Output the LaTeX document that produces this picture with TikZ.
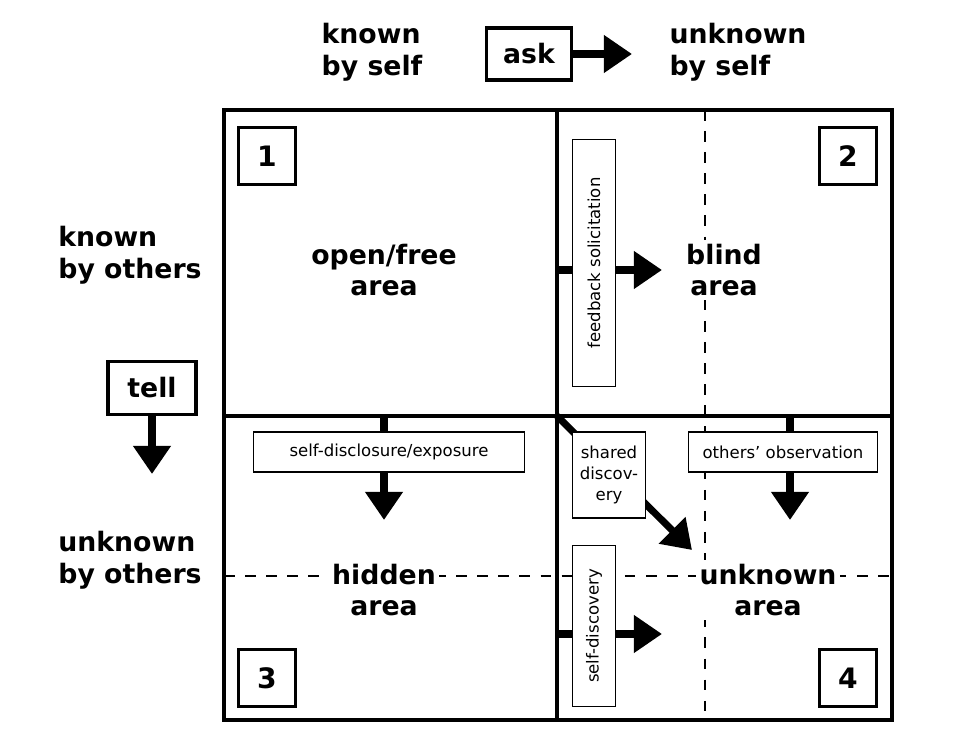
\documentclass[tikz,border=0pt]{standalone}
\usepackage{fontspec}
\setmainfont{DejaVu Sans}
\usetikzlibrary{arrows.meta,positioning}

\tikzset{
  big/.style={font=\bfseries\fontsize{7.6}{9}\selectfont, align=left},
  area/.style={font=\bfseries\fontsize{7.6}{9}\selectfont, align=center, fill=white, inner sep=1pt},
  numbox/.style={draw, line width=1.1pt, minimum size=0.57cm, inner sep=0pt, font=\bfseries\fontsize{8}{9}\selectfont},
  small/.style={draw, line width=0.4pt, fill=white, font=\fontsize{4.7}{6}\selectfont, align=center, inner sep=1pt},
  fat/.style={line width=2pt, -{Triangle[length=0.28cm,width=0.36cm]}},
}

\begin{document}
\begin{tikzpicture}[x=0.01cm,y=-0.01cm]
\useasboundingbox (0,0) rectangle (960,749);
% dashed splits
\draw[dashed, line width=0.6pt] (705,110) -- (705,720);
\draw[dashed, line width=0.6pt] (224,576) -- (892,576);
% grid
\draw[line width=1.4pt] (224,110) rectangle (892,720);
\draw[line width=1.4pt] (557,110) -- (557,720);
\draw[line width=1.4pt] (224,416) -- (892,416);
% headers
\node[big] (ks) at (372,52) {known\\by self};
\node[big] (us) at (738,52) {unknown\\by self};
\node[big] (ko) at (130,255) {known\\by others};
\node[big] (uo) at (130,560) {unknown\\by others};
\node[draw, line width=1.1pt, minimum width=0.85cm, minimum height=0.52cm, big] (ask) at (529,54) {ask};
\coordinate (askend) at (632,54);
\draw[fat] (ask.east) -- (askend);
\node[draw, line width=1.1pt, minimum width=0.88cm, minimum height=0.53cm, big] (tell) at (152,388) {tell};
\coordinate (tellend) at (152,474);
\draw[fat] (tell.south) -- (tellend);
% numbers
\node[numbox] (n1) at (267,156) {1};
\node[numbox] (n2) at (848,156) {2};
\node[numbox] (n3) at (267,678) {3};
\node[numbox] (n4) at (848,678) {4};
% areas
\node[area] (open) at (384,270) {open/free\\area};
\node[area] (blind) at (724,270) {blind\\area};
\node[area] (hidden) at (384,590) {hidden\\area};
\node[area] (unknown) at (768,590) {unknown\\area};
% feedback
\coordinate (fbs) at (557,270);
\coordinate (fbe) at (662,270);
\draw[fat] (fbs) -- (fbe);
\node[small, minimum width=2.47cm, minimum height=0.43cm, rotate=90] (fb) at (594,263) {feedback solicitation};
% self-disclosure
\coordinate (sds) at (384,416);
\coordinate (sde) at (384,520);
\draw[fat] (sds) -- (sde);
\node[small, minimum width=2.71cm, minimum height=0.4cm] (sd) at (389,452) {self-disclosure/exposure};
% others' observation
\coordinate (oos) at (790,416);
\coordinate (ooe) at (790,520);
\draw[fat] (oos) -- (ooe);
\node[small, minimum width=1.89cm, minimum height=0.4cm] (oo) at (783,452) {others' observation};
% shared discovery
\coordinate (shs) at (557,416);
\coordinate (she) at (692,550);
\draw[fat] (shs) -- (she);
\node[small, minimum width=0.73cm, minimum height=0.86cm] (sh) at (609,475) {shared\\discov-\\ery};
% self-discovery
\coordinate (sfs) at (557,634);
\coordinate (sfe) at (662,634);
\draw[fat] (sfs) -- (sfe);
\node[small, minimum width=1.61cm, minimum height=0.43cm, rotate=90] (sf) at (594,626) {self-discovery};
\end{tikzpicture}
\end{document}
